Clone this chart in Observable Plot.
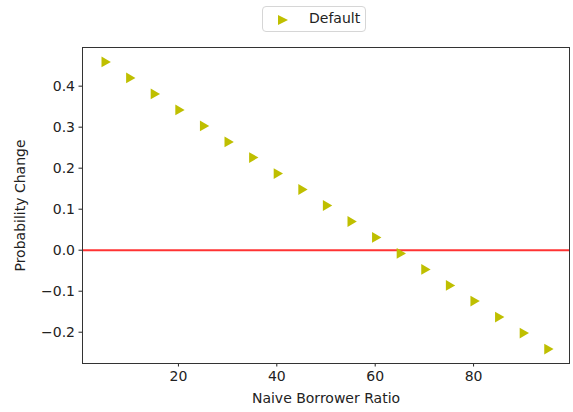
<!DOCTYPE html>
<html>
<head>
<meta charset="utf-8">
<script src="https://cdn.jsdelivr.net/npm/d3@7"></script>
<script src="https://cdn.jsdelivr.net/npm/@observablehq/plot@0.6"></script>
<style>
  html, body { margin: 0; padding: 0; background: #fff; }
  body { width: 573px; height: 412px; overflow: hidden; font-family: "DejaVu Sans", sans-serif; }
  #legend { position: relative; height: 40px; }
  #legend .box {
    position: absolute; left: 262px; top: 6px; width: 104px; height: 26px;
    border: 1px solid #d6d6d6; border-radius: 4px; box-sizing: border-box; background: #fff;
  }
  #legend svg { position: absolute; left: 14px; top: 7px; }
  #legend span { position: absolute; left: 46px; top: 3px; font-size: 14px; color: #222; }
</style>
</head>
<body>
<div id="legend"><div class="box"><svg width="12" height="12"><polygon points="1,1 11,6 1,11" fill="#bfbf00"/></svg><span>Default</span></div></div>
<div id="chart"></div>
<script>
const ratios = [5, 10, 15, 20, 25, 30, 35, 40, 45, 50, 55, 60, 65, 70, 75, 80, 85, 90, 95];
const probChange = [0.459, 0.420, 0.381, 0.342, 0.303, 0.264, 0.226, 0.187, 0.148, 0.109, 0.070, 0.031, -0.008, -0.047, -0.086, -0.124, -0.163, -0.202, -0.241];
const xTicks = [20, 40, 60, 80];
const yTicks = [-0.2, -0.1, 0.0, 0.1, 0.2, 0.3, 0.4];
const seriesName = "Default";

const data = ratios.map((r, i) => ({ratio: r, change: probChange[i], series: seriesName}));

const plot = Plot.plot({
  width: 573,
  height: 372,
  marginTop: 7,
  marginLeft: 82,
  marginRight: 4,
  marginBottom: 49,
  style: {fontFamily: "DejaVu Sans, sans-serif", fontSize: "14px", color: "#222", background: "#fff"},
  x: {domain: [0.5, 99.5], ticks: xTicks, tickSize: 3.5, tickPadding: 4, label: "Naive Borrower Ratio", labelAnchor: "center", labelArrow: "none", labelOffset: 39},
  y: {domain: [-0.2763, 0.4943], ticks: yTicks, tickFormat: d3.format(".1f"), tickSize: 3.5, tickPadding: 4, label: "Probability Change", labelAnchor: "center", labelArrow: "none", labelOffset: 67},
  marks: [
    Plot.ruleY([0], {stroke: "red", strokeWidth: 2, strokeOpacity: 0.8}),
    Plot.dot(data, {x: "ratio", y: "change", symbol: "triangle", rotate: 90, r: 4, fill: "#bfbf00", stroke: "none"}),
    Plot.frame({stroke: "#333", strokeWidth: 1})
  ]
});
document.getElementById("chart").appendChild(plot);
</script>
</body>
</html>
